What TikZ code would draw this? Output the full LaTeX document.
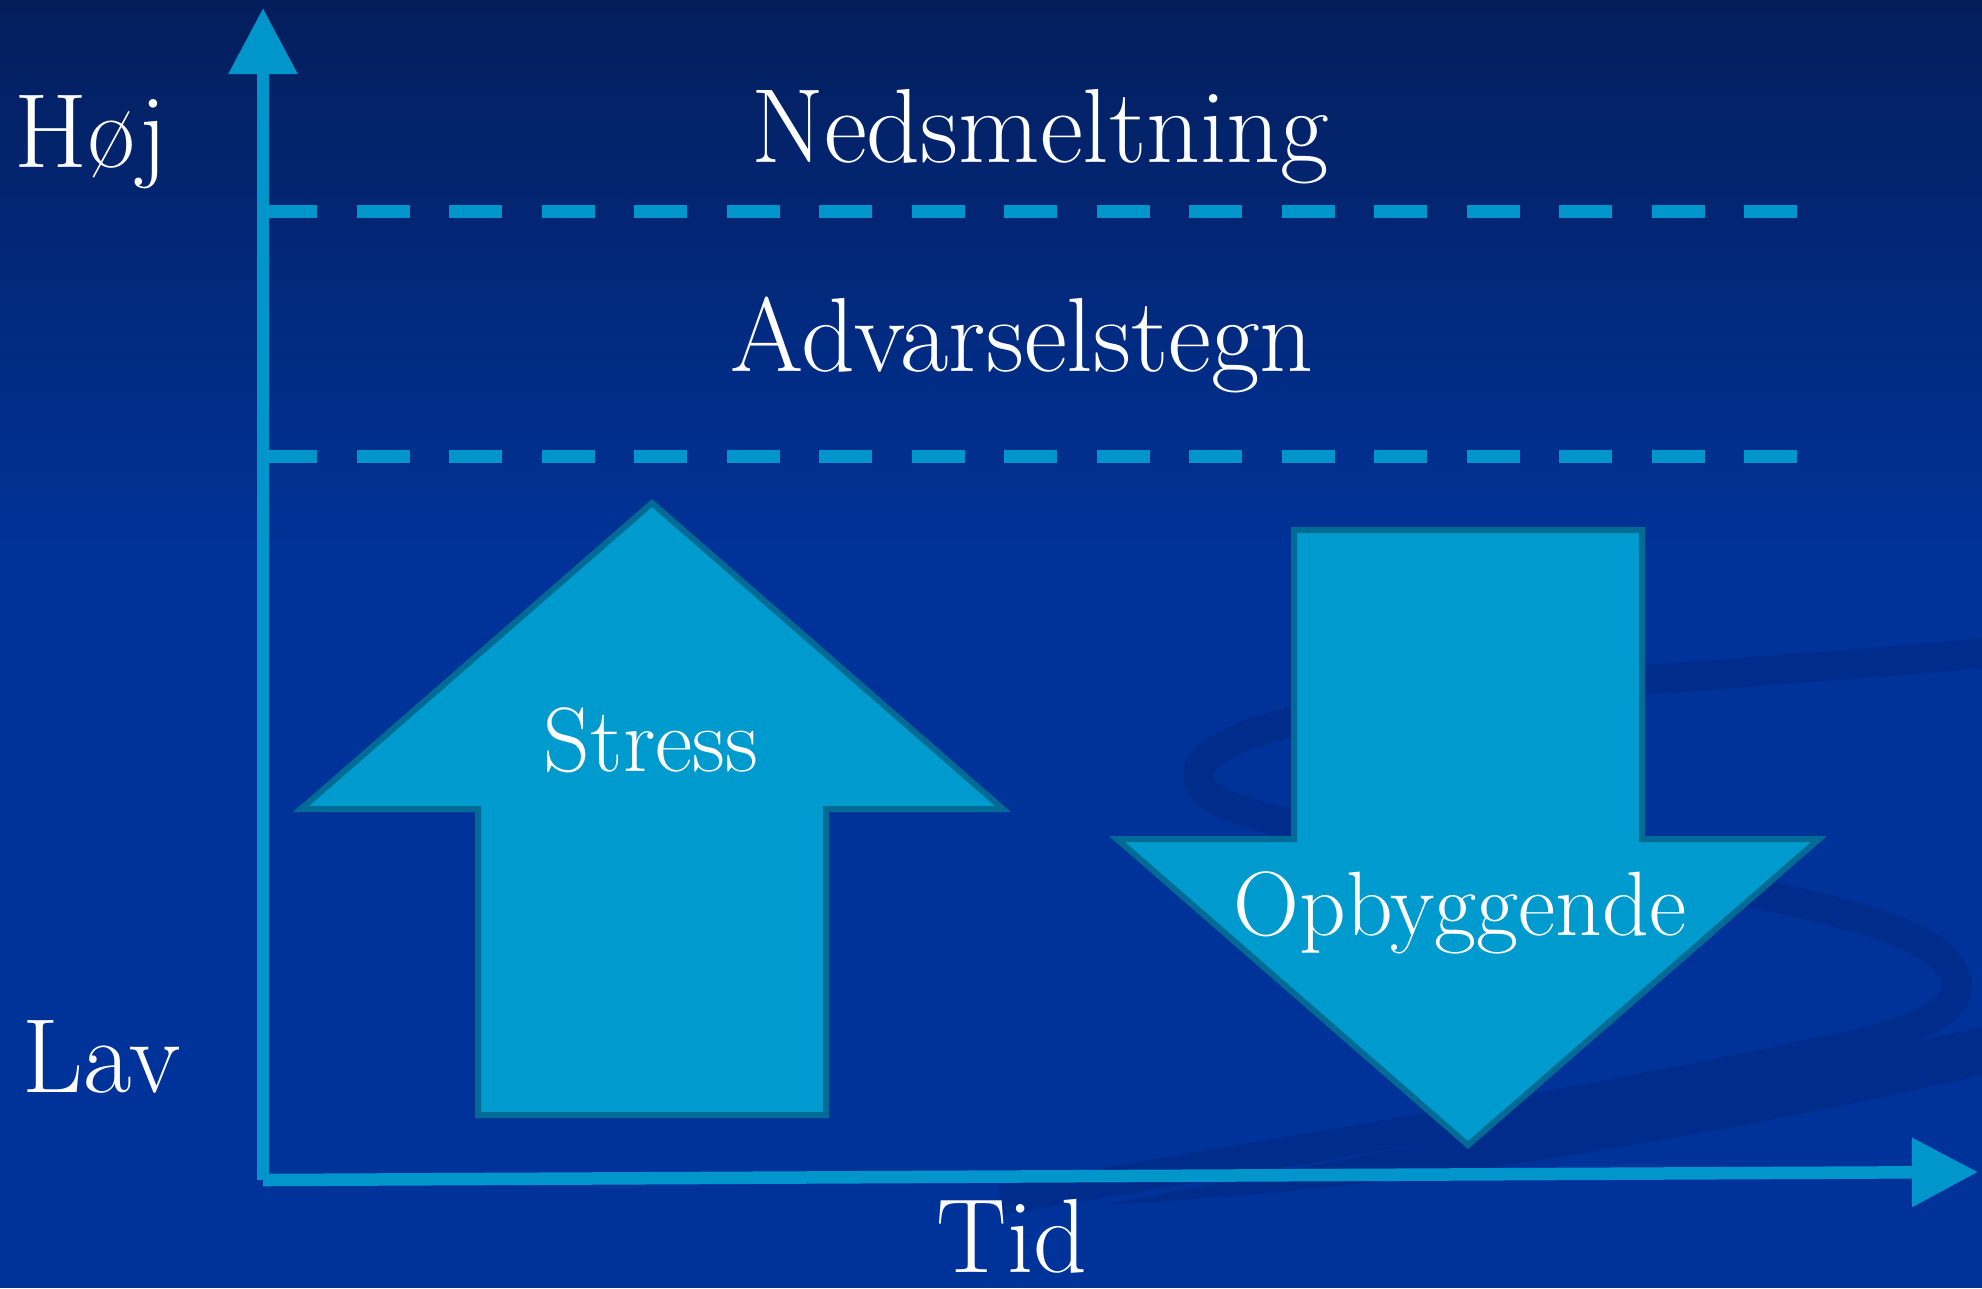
\documentclass[tikz,border=0pt]{standalone}
\usepackage{tikz}
\usetikzlibrary{arrows.meta}
\definecolor{bgtop}{RGB}{4,30,92}
\definecolor{bgmain}{RGB}{0,51,153}
\definecolor{swirl}{RGB}{0,45,139}
\definecolor{axisblue}{RGB}{0,150,204}
\definecolor{arrowfill}{RGB}{0,155,206}
\definecolor{arrowedge}{RGB}{0,108,150}
\tikzset{
    axis/.style = {axisblue, line width = 1.25mm, -{Triangle[length = 6.6mm, width = 6.6mm]}},
    levelline/.style = {axisblue, line width = 1.3mm, dash pattern = on 5.3mm off 3.95mm},
    bigarrow/.style = {fill = arrowfill, draw = arrowedge, line width = 0.6mm},
    bigtext/.style = {white, inner sep = 0pt, font = \fontsize{30}{36}\selectfont},
    arrowtext/.style = {white, inner sep = 0pt, font = \fontsize{26}{31}\selectfont},
}

\begin{document}
\begin{tikzpicture}[x = 0.1mm, y = -0.1mm]
    % Parametri
    \pgfmathsetmacro{\sw}{174}
    \pgfmathsetmacro{\hw}{351}
    \pgfmathsetmacro{\hl}{306}
    % Sfondo
    \useasboundingbox (0,0) rectangle (1982,1288);
    \fill[bgmain] (0,0) rectangle (1982,1288);
    \shade[top color = bgtop, bottom color = bgmain] (0,0) rectangle (1982,560);
    % Spirale
    \draw[swirl, line width = 3mm] (1995,652) .. controls (1750,675) and (1420,690) .. (1290,722) .. controls (1170,752) and (1160,800) .. (1300,825) .. controls (1500,860) and (1880,890) .. (1945,960) .. controls (1990,1010) and (1900,1035) .. (1830,1050) .. controls (1600,1100) and (1300,1150) .. (1000,1200);
    \fill[swirl] (1100,1205) .. controls (1400,1150) and (1700,1090) .. (1995,1024) -- (1995,1072) .. controls (1700,1140) and (1400,1190) .. (1100,1205) -- cycle;
    % Livelli
    \draw[levelline] (264,211) -- (1797,211);
    \draw[levelline] (264,456) -- (1797,456);
    % Assi
    \coordinate (O) at (263,1180);
    \coordinate (Ytop) at (263,8);
    \coordinate (Xend) at (1978,1172);
    \draw[axis] (O) -- (Ytop);
    \draw[axis] (O) -- (Xend);
    % Freccia su (Stress)
    \draw[bigarrow] (652,503) -- ({652+\hw},{503+\hl}) -- ({652+\sw},{503+\hl}) -- ({652+\sw},1115) -- ({652-\sw},1115) -- ({652-\sw},{503+\hl}) -- ({652-\hw},{503+\hl}) -- cycle;
    \node[arrowtext, anchor = base] (stress) at (651,771){Stress};
    % Freccia giu (Opbyggende)
    \draw[bigarrow] (1468,1145) -- ({1468+\hw},{1145-\hl}) -- ({1468+\sw},{1145-\hl}) -- ({1468+\sw},530) -- ({1468-\sw},530) -- ({1468-\sw},{1145-\hl}) -- ({1468-\hw},{1145-\hl}) -- cycle;
    \node[arrowtext, anchor = base] (opbyg) at (1460,935){Opbyggende};
    % Testi
    \node[bigtext, anchor = base west] (hoej) at (14,167){Høj};
    \node[bigtext, anchor = base west] (lav) at (22,1092){Lav};
    \node[bigtext, anchor = base] (tid) at (1012,1272){Tid};
    \node[bigtext, anchor = base] (nedsm) at (1040,162){Nedsmeltning};
    \node[bigtext, anchor = base] (advar) at (1022,371){Advarselstegn};
\end{tikzpicture}
\end{document}
